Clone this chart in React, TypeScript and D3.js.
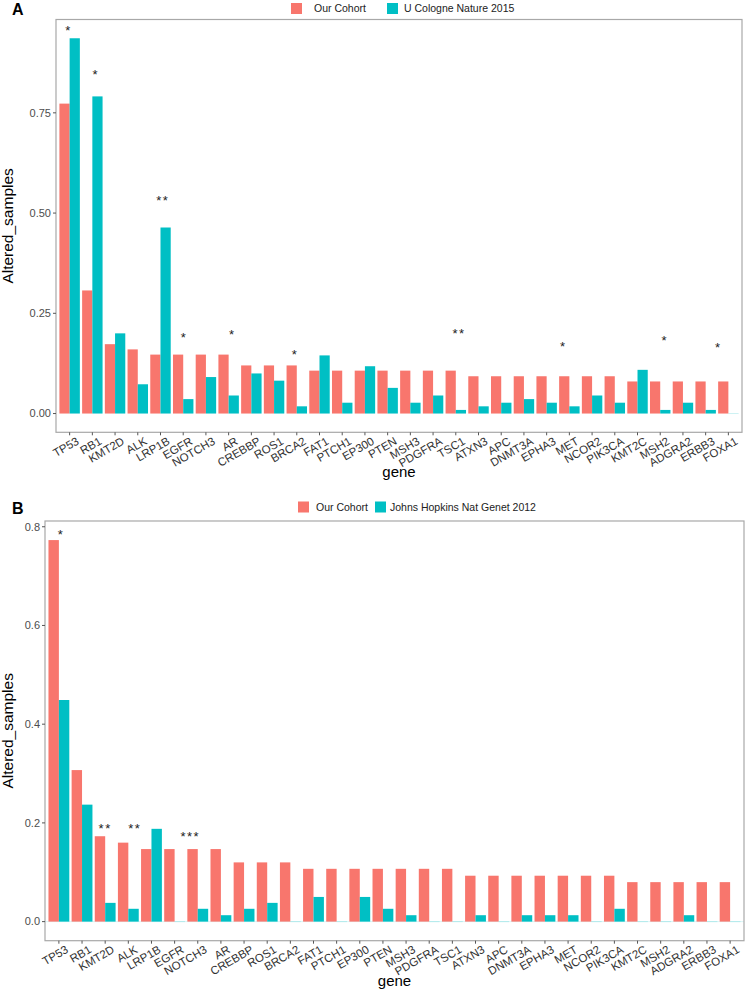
import React from "react";
import * as d3 from "d3";

// genes in plotted order (sorted by frequency in our cohort)
const genes = [
  "TP53", "RB1", "KMT2D", "ALK", "LRP1B", "EGFR", "NOTCH3", "AR", "CREBBP", "ROS1",
  "BRCA2", "FAT1", "PTCH1", "EP300", "PTEN", "MSH3", "PDGFRA", "TSC1", "ATXN3", "APC",
  "DNMT3A", "EPHA3", "MET", "NCOR2", "PIK3CA", "KMT2C", "MSH2", "ADGRA2", "ERBB3", "FOXA1",
];

const ourCohort = [
  0.773, 0.307, 0.173, 0.16, 0.147, 0.147, 0.147, 0.147, 0.12, 0.12,
  0.12, 0.107, 0.107, 0.107, 0.107, 0.107, 0.107, 0.107, 0.093, 0.093,
  0.093, 0.093, 0.093, 0.093, 0.093, 0.08, 0.08, 0.08, 0.08, 0.08,
];

const cologne = [
  0.936, 0.791, 0.2, 0.073, 0.464, 0.036, 0.091, 0.045, 0.1, 0.082,
  0.018, 0.145, 0.027, 0.118, 0.064, 0.027, 0.045, 0.009, 0.018, 0.027,
  0.036, 0.027, 0.018, 0.045, 0.027, 0.109, 0.009, 0.027, 0.009, 0,
];

const hopkins = [
  0.449, 0.237, 0.038, 0.026, 0.188, 0, 0.026, 0.013, 0.026, 0.038,
  0, 0.05, 0, 0.05, 0.026, 0.013, 0, 0, 0.013, 0,
  0.013, 0.013, 0.013, 0, 0.026, 0, 0, 0.013, 0, 0,
];

// significance marks: gene, label, height (data units), sideways shift (in category steps)
const starGenesA = ["TP53", "RB1", "LRP1B", "EGFR", "AR", "BRCA2", "TSC1", "MET", "MSH2", "FOXA1"];
const starLabelsA = ["*", "*", "**", "*", "*", "*", "**", "*", "*", "*"];
const starYA = [0.962, 0.853, 0.54, 0.198, 0.204, 0.155, 0.207, 0.174, 0.19, 0.171];
const starShiftA = [-0.05, 0.15, 0.1, 0.04, 0.16, -0.08, 0.14, -0.27, 0.2, -0.44];

const starGenesB = ["TP53", "KMT2D", "ALK", "EGFR"];
const starLabelsB = ["*", "**", "**", "***"];
const starYB = [0.79, 0.195, 0.195, 0.178];
const starShiftB = [0.09, 0, 0.28, 0.68];

const yTicksA = [0, 0.25, 0.5, 0.75];
const yTicksB = [0, 0.2, 0.4, 0.6, 0.8];

const RED = "#F8766D";
const CYAN = "#00BFC4";
const FONT = "'Liberation Sans', Arial, Helvetica, sans-serif";

type Box = { left: number; right: number; top: number; bottom: number };
type Legend = { y: number; key1: number; text1: number; key2: number; text2: number };

function Panel(props: {
  box: Box;
  refName: string;
  refValues: number[];
  starGenes: string[];
  starLabels: string[];
  starY: number[];
  starShift: number[];
  yTicks: number[];
  fmt: string;
  letter: string;
  letterY: number;
  legend: Legend;
  geneY: number;
  zeroLine?: boolean;
}) {
  const { box, refValues, legend } = props;
  const x = d3.scalePoint<string>().domain(genes).range([box.left, box.right]).padding(0.6);
  const step = x.step();
  const sub = d3.scaleBand().domain(["ours", "ref"]).range([-step * 0.45, step * 0.45]);
  const yMax = d3.max([...ourCohort, ...refValues]) as number;
  const y = d3.scaleLinear().domain([-yMax * 0.05, yMax * 1.05]).range([box.bottom, box.top]);
  const fmt = d3.format(props.fmt);
  const y0 = y(0);

  const rows = genes.map((g, i) => ({ gene: g, ours: ourCohort[i], ref: refValues[i] }));

  const bar = (g: string, key: string, v: number, color: string) => {
    const bx = (x(g) as number) + (sub(key) as number);
    return (
      <rect
        key={g + key}
        x={bx}
        y={v > 0 ? y(v) : y0 - 0.5}
        width={sub.bandwidth()}
        height={v > 0 ? y0 - y(v) : 1}
        fill={color}
        fillOpacity={v > 0 ? 1 : 0.2}
      />
    );
  };

  return (
    <g fontFamily={FONT}>
      <text x={12} y={props.letterY} fontSize={16} fontWeight="bold" fill="#000">
        {props.letter}
      </text>
      {/* legend */}
      <rect x={legend.key1} y={legend.y - 5.5} width={11} height={11} fill={RED} />
      <text x={legend.text1} y={legend.y + 3.8} fontSize={10.5} fill="#222">Our Cohort</text>
      <rect x={legend.key2} y={legend.y - 5.5} width={11} height={11} fill={CYAN} />
      <text x={legend.text2} y={legend.y + 3.8} fontSize={10.5} fill="#222">
        {props.refName}
      </text>

      {props.zeroLine && (
        <line x1={box.left} x2={box.right} y1={y0} y2={y0} stroke={CYAN} strokeOpacity={0.15} />
      )}

      {rows.map((r) => (
        <g key={r.gene}>
          {bar(r.gene, "ours", r.ours, RED)}
          {bar(r.gene, "ref", r.ref, CYAN)}
        </g>
      ))}

      {props.starGenes.map((g, i) => (
        <text
          key={"s" + i}
          x={(x(g) as number) + props.starShift[i] * step}
          y={y(props.starY[i]) + 7.5}
          fontSize={13}
          letterSpacing={1.5}
          textAnchor="middle"
          fill="#222"
        >
          {props.starLabels[i]}
        </text>
      ))}

      {/* panel border */}
      <rect
        x={box.left}
        y={box.top}
        width={box.right - box.left}
        height={box.bottom - box.top}
        fill="none"
        stroke="#a8a8a8"
        strokeWidth={1.2}
      />

      {/* y axis */}
      {props.yTicks.map((t) => (
        <g key={t} transform={`translate(${box.left},${y(t)})`}>
          <line x1={-3} x2={0} stroke="#555" />
          <text x={-5} dy="0.35em" textAnchor="end" fontSize={11} fill="#4d4d4d">
            {fmt(t)}
          </text>
        </g>
      ))}
      <text
        transform={`translate(13,${(box.top + box.bottom) / 2}) rotate(-90)`}
        textAnchor="middle"
        fontSize={15.5}
        fill="#000"
      >
        Altered_samples
      </text>

      {/* x axis */}
      {genes.map((g) => (
        <g key={g} transform={`translate(${x(g)},${box.bottom})`}>
          <line y1={0} y2={3} stroke="#555" />
          <text
            transform="translate(6,4) rotate(-30)"
            textAnchor="end"
            dy="0.72em"
            fontSize={11.5}
            fill="#333"
          >
            {g}
          </text>
        </g>
      ))}
      <text x={(box.left + box.right) / 2} y={props.geneY} textAnchor="middle" fontSize={15} fill="#000">
        gene
      </text>
    </g>
  );
}

export default function App() {
  return (
    <svg
      width={746}
      height={991}
      style={{ position: "absolute", left: 0, top: 0, background: "#fff" }}
    >
      <Panel
        box={{ left: 56, right: 742, top: 19.5, bottom: 432.3 }}
        refName="U Cologne Nature 2015"
        refValues={cologne}
        starGenes={starGenesA}
        starLabels={starLabelsA}
        starY={starYA}
        starShift={starShiftA}
        yTicks={yTicksA}
        fmt=".2f"
        letter="A"
        letterY={15}
        legend={{ y: 8.5, key1: 291, text1: 314, key2: 387, text2: 404 }}
        geneY={477}
      />
      <Panel
        box={{ left: 45, right: 744, top: 521, bottom: 940.7 }}
        refName="Johns Hopkins Nat Genet 2012"
        refValues={hopkins}
        starGenes={starGenesB}
        starLabels={starLabelsB}
        starY={starYB}
        starShift={starShiftB}
        yTicks={yTicksB}
        fmt=".1f"
        letter="B"
        letterY={514}
        legend={{ y: 507, key1: 298, text1: 316, key2: 375, text2: 390 }}
        geneY={986}
        zeroLine
      />
    </svg>
  );
}
